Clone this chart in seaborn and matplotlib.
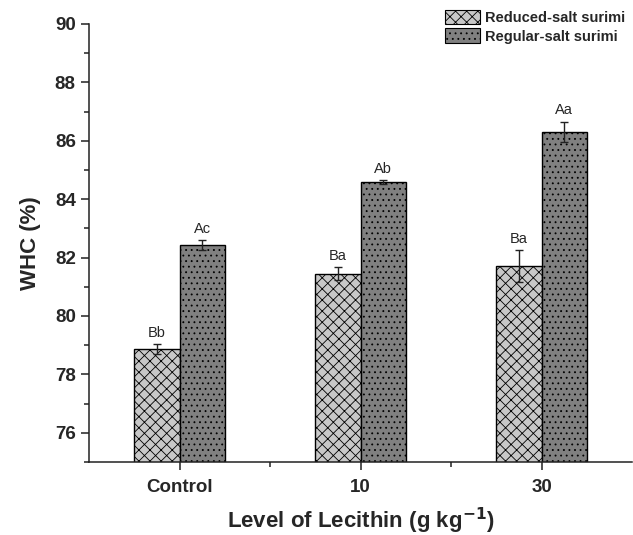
import matplotlib
matplotlib.use("Agg")
import matplotlib.pyplot as plt
from matplotlib.patches import Patch
from matplotlib.ticker import MultipleLocator
import pandas as pd
import seaborn as sns

# data
levels = ["Control", "10", "30"]
groups = ["Reduced-salt surimi", "Regular-salt surimi"]
reduced_mean = [78.88, 81.45, 81.72]
reduced_sd = [0.17, 0.22, 0.54]
regular_mean = [82.43, 84.59, 86.31]
regular_sd = [0.17, 0.07, 0.35]
reduced_letters = ["Bb", "Ba", "Ba"]
regular_letters = ["Ac", "Ab", "Aa"]

df = pd.DataFrame({
    "level": levels * 2,
    "salt": [groups[0]] * 3 + [groups[1]] * 3,
    "whc": reduced_mean + regular_mean,
})

sns.set_theme(style="ticks")
plt.rcParams["font.family"] = ["Liberation Sans", "DejaVu Sans"]
plt.rcParams["hatch.linewidth"] = 0.6
plt.rcParams["hatch.color"] = "black"

colors = ["#c8c8c8", "#808080"]
hatches = ["xxx", "..."]

fig = plt.figure(figsize=(6.33, 5.35), dpi=100)
ax = fig.add_axes([89 / 633, 1 - 462 / 535, (632 - 89) / 633, (462 - 24) / 535])

sns.barplot(data=df, x="level", y="whc", hue="salt", order=levels, hue_order=groups,
            palette=colors, width=0.5, edgecolor="black", linewidth=1.0,
            errorbar=None, legend=False, ax=ax)

sds = [reduced_sd, regular_sd]
letters = [reduced_letters, regular_letters]
for cont, hatch, sd, lab in zip(ax.containers, hatches, sds, letters):
    xs, ys = [], []
    for p in cont:
        p.set_hatch(hatch)
        xs.append(p.get_x() + p.get_width() / 2)
        ys.append(p.get_height())
    ax.errorbar(xs, ys, yerr=sd, fmt="none", ecolor="#222222", elinewidth=1.0,
                capsize=3.2, capthick=1.0, zorder=3)
    for x, y, s, t in zip(xs, ys, sd, lab):
        ax.annotate(t, (x, y + s), xytext=(0, 3), textcoords="offset points",
                    ha="center", va="bottom", fontsize=10.5)

ax.set_ylim(75, 90)
ax.set_xlim(-0.5, 2.5)
ax.yaxis.set_minor_locator(MultipleLocator(1))
ax.set_xticks([0, 1, 2])
ax.set_xticks([0.5, 1.5], minor=True)
ax.set_yticks([76, 78, 80, 82, 84, 86, 88, 90])

for lab in ax.get_xticklabels() + ax.get_yticklabels():
    lab.set_fontweight("bold")
    lab.set_fontsize(13.5)

ax.tick_params(axis="both", which="major", direction="out", length=6, width=1.1, color="#222222")
ax.tick_params(axis="both", which="minor", direction="out", length=3.5, width=1.1, color="#222222")
ax.tick_params(axis="x", which="major", pad=6)

sns.despine(ax=ax)
for sp in ["left", "bottom"]:
    ax.spines[sp].set_linewidth(1.1)
    ax.spines[sp].set_color("#222222")

ax.set_xlabel("Level of Lecithin (g kg$^{\\mathbf{-1}}$)", fontsize=16, fontweight="bold", labelpad=7)
ax.set_ylabel("WHC (%)", fontsize=16, fontweight="bold", labelpad=10)

handles = [Patch(facecolor=c, edgecolor="black", hatch=h, linewidth=0.8, label=g)
           for c, h, g in zip(colors, hatches, groups)]
leg = ax.legend(handles=handles, loc="upper left", bbox_to_anchor=(445 / 633, 1 - 10 / 535),
                bbox_transform=fig.transFigure, frameon=False, borderpad=0, borderaxespad=0,
                handlelength=2.3, handleheight=1.05, labelspacing=0.2, handletextpad=0.35)
for t in leg.get_texts():
    t.set_fontweight("bold")
    t.set_fontsize(10.5)

fig.savefig("out.png", dpi=100)
